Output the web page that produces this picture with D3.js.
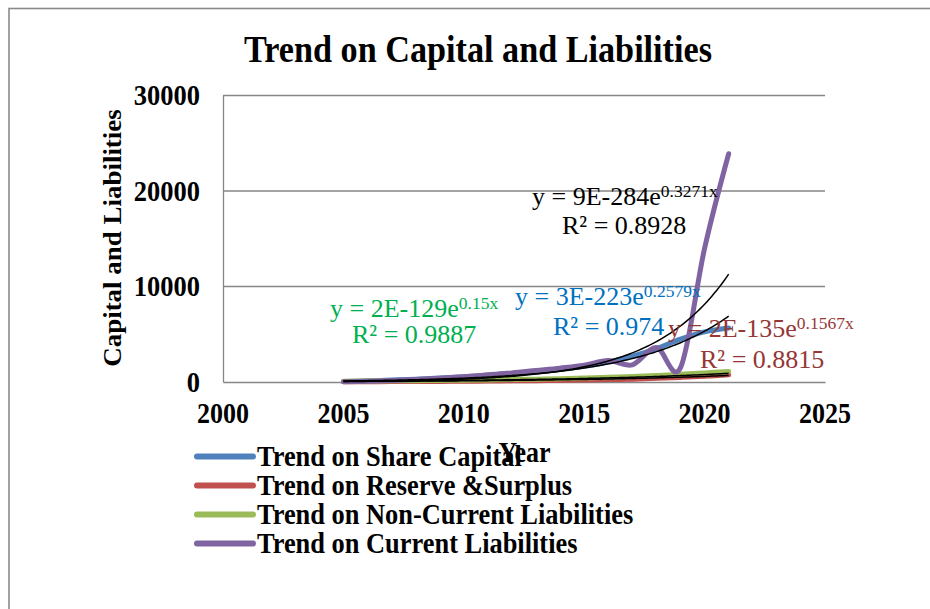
<!DOCTYPE html>
<html>
<head>
<meta charset="utf-8">
<script src="https://cdn.jsdelivr.net/npm/d3@7"></script>
<style>
  html, body { margin: 0; padding: 0; background: #fff; }
  svg { display: block; }
  text { font-family: "Liberation Serif", "Times New Roman", serif; }
</style>
</head>
<body>
<svg id="chart" width="930" height="609"></svg>
<script>
// ---------------- data ----------------
const years = [2005, 2006, 2007, 2008, 2009, 2010, 2011, 2012, 2013, 2014, 2015, 2016, 2017, 2018, 2019, 2020, 2021];
const shareCapital = [50, 120, 200, 300, 420, 560, 720, 900, 1100, 1300, 1650, 2100, 2700, 3500, 4500, 5250, 5650];
const reserveSurplus = [20, 30, 40, 50, 60, 80, 100, 120, 140, 170, 200, 250, 300, 380, 480, 600, 750];
const nonCurrentLiab = [80, 100, 120, 140, 160, 190, 220, 260, 300, 350, 420, 500, 580, 680, 800, 950, 1100];
const currentLiab = [30, 80, 150, 250, 380, 550, 750, 950, 1200, 1450, 1750, 2250, 1800, 3600, 1500, 14000, 23900];

const seriesNames = ["Trend on Share Capital", "Trend on Reserve &Surplus", "Trend on Non-Current Liabilities", "Trend on Current Liabilities"];
// exponential trendline coefficients as shown on the chart: y = A e^(B x)
const trendA = ["3E-223", "2E-135", "2E-129", "9E-284"];
const trendB = ["0.2579", "0.1567", "0.15", "0.3271"];
const trendR2 = ["0.974", "0.8815", "0.9887", "0.8928"];

const xTicks = [2000, 2005, 2010, 2015, 2020, 2025];
const yTicks = [0, 10000, 20000, 30000];

const titleText = "Trend on Capital and Liabilities";
const xTitle = "Year";
const yTitle = "Capital and Liabilities";

// ---------------- styles ----------------
const seriesColors = ["#4F81BD", "#C0504D", "#9BBB59", "#8064A2"];
const labelColors = ["#0070C0", "#953735", "#00B050", "#000000"];
const labelPos = [
  { ex: 515, ey: 305, rx: 553, ry: 335 },
  { ex: 668, ey: 337, rx: 700, ry: 368 },
  { ex: 330, ey: 317, rx: 352, ry: 343 },
  { ex: 532, ey: 205, rx: 562, ry: 234 }
];
const seriesValues = [shareCapital, reserveSurplus, nonCurrentLiab, currentLiab];

const svg = d3.select("#chart");
const plot = { left: 223, right: 825, top: 95.5, bottom: 382 };
const stretch = 1.1;

// chart border
svg.append("rect").attr("x", 9).attr("y", 8.5).attr("width", 1000).attr("height", 700)
  .attr("fill", "#fff").attr("stroke", "#8a8a8a").attr("stroke-width", 1.6);

const x = d3.scaleLinear().domain([2000, 2025]).range([plot.left, plot.right]);
const y = d3.scaleLinear().domain([0, 30000]).range([plot.bottom, plot.top]);

// gridlines
svg.append("g").selectAll("line").data(yTicks.filter(d => d > 0)).join("line")
  .attr("x1", plot.left).attr("x2", plot.right)
  .attr("y1", d => y(d)).attr("y2", d => y(d))
  .attr("stroke", "#868686").attr("stroke-width", 1.3);

// axes lines
const yAxis = d3.axisLeft(y).tickValues(yTicks).tickSize(0).tickFormat("");
const gy = svg.append("g").attr("transform", `translate(${plot.left},0)`).call(yAxis);
gy.select(".domain").attr("stroke", "#868686").attr("stroke-width", 1.3);
const xAxis = d3.axisBottom(x).tickValues(xTicks).tickSize(0).tickFormat("");
const gx = svg.append("g").attr("transform", `translate(0,${plot.bottom})`).call(xAxis);
gx.select(".domain").attr("stroke", "#868686").attr("stroke-width", 1.3);

// tick labels
function stretchedText(g, tx, ty, str, size, weight, anchor, sy) {
  return g.append("text")
    .attr("transform", `translate(${tx},${ty}) scale(1,${sy})`)
    .attr("text-anchor", anchor)
    .attr("font-size", size).attr("font-weight", weight)
    .attr("fill", "#000").text(str);
}
const labels = svg.append("g");
yTicks.forEach(t => stretchedText(labels, 200, y(t) + 9.5, String(t), 26.5, "bold", "end", stretch));
xTicks.forEach(t => stretchedText(labels, x(t), 423, String(t), 26, "bold", "middle", stretch));

// series lines
const line = d3.line().x((d, i) => x(years[i])).y(d => y(d)).curve(d3.curveCardinal.tension(0));
seriesValues.forEach((vals, k) => {
  svg.append("path").datum(vals).attr("d", line)
    .attr("fill", "none").attr("stroke", seriesColors[k]).attr("stroke-width", 5)
    .attr("stroke-linecap", "round").attr("stroke-linejoin", "round");
});

// trendlines
const trendYears = d3.range(years[0], years[years.length - 1] + 0.001, 0.1);
trendA.forEach((a, k) => {
  const lnA = Math.log(parseFloat(a));
  const b = parseFloat(trendB[k]);
  const pts = trendYears.map(t => [x(t), y(Math.exp(lnA + b * t))]);
  svg.append("path").attr("d", d3.line()(pts))
    .attr("fill", "none").attr("stroke", "#000").attr("stroke-width", 1.5);
});

// trendline labels
trendA.forEach((a, k) => {
  const p = labelPos[k];
  const t = svg.append("text").attr("x", p.ex).attr("y", p.ey)
    .attr("font-size", 26).attr("fill", labelColors[k]);
  t.append("tspan").text(`y = ${a}e`);
  t.append("tspan").attr("font-size", 17.5).attr("dy", -8).text(`${trendB[k]}x`);
  svg.append("text").attr("x", p.rx).attr("y", p.ry)
    .attr("font-size", 26).attr("fill", labelColors[k])
    .text(`R² = ${trendR2[k]}`);
});

// title
stretchedText(svg, 478, 62, titleText, 34.2, "bold", "middle", stretch);

// y axis title
svg.append("text")
  .attr("transform", `translate(121,238) scale(1,${stretch}) rotate(-90)`)
  .attr("text-anchor", "middle").attr("font-size", 24.5).attr("font-weight", "bold")
  .text(yTitle);

// legend
const lg = svg.append("g");
seriesNames.forEach((name, k) => {
  const ly = 456.5 + 29 * k;
  lg.append("line").attr("x1", 197).attr("x2", 253).attr("y1", ly).attr("y2", ly)
    .attr("stroke", seriesColors[k]).attr("stroke-width", 6).attr("stroke-linecap", "round");
  stretchedText(lg, 257, ly + 9, name, 26.4, "bold", "start", stretch);
});

// x axis title (drawn over legend, as in original)
stretchedText(svg, 524.5, 462, xTitle, 26, "bold", "middle", stretch);
</script>
</body>
</html>
